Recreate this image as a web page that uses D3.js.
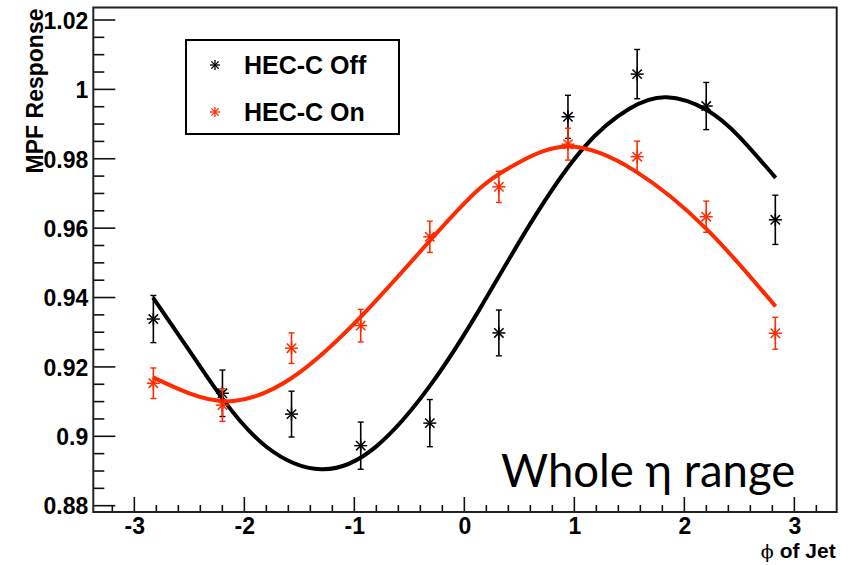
<!DOCTYPE html>
<html><head><meta charset="utf-8">
<script src="https://cdn.jsdelivr.net/npm/d3@7"></script>
<style>
html,body{margin:0;padding:0;background:#fff;}
svg{display:block;}
</style></head>
<body>
<svg id="c" width="848" height="565"></svg>
<script>
// ---- data ----
const phiBins = [-2.827, -2.199, -1.571, -0.942, -0.314, 0.314, 0.942, 1.571, 2.199, 2.827];
const offValues = [0.9338, 0.9124, 0.9064, 0.8973, 0.9038, 0.9298, 0.9921, 1.0044, 0.9952, 0.9624];
const offErrors = [0.0068, 0.0067, 0.0066, 0.0068, 0.0068, 0.0066, 0.0062, 0.0071, 0.0068, 0.0071];
const onValues  = [0.9153, 0.9090, 0.9254, 0.9319, 0.9575, 0.9719, 0.9842, 0.9806, 0.9633, 0.9297];
const onErrors  = [0.0044, 0.0047, 0.0044, 0.0047, 0.0045, 0.0045, 0.0046, 0.0045, 0.0045, 0.0046];
// fit curves
const offFitX = [-2.83, -2.5, -2.19, -1.8, -1.3, -0.8, -0.3, 0.142, 0.6, 1.08, 1.5, 1.84, 2.2, 2.5, 2.83];
const offFitY = [0.9400, 0.9247, 0.9105, 0.8970, 0.8905, 0.8971, 0.9151, 0.9368, 0.9613, 0.9830, 0.9944, 0.9977, 0.9941, 0.9863, 0.9745];
const onFitX  = [-2.83, -2.5, -2.1, -1.57, -0.94, -0.31, 0.142, 0.5, 0.96, 1.55, 2.2, 2.83];
const onFitY  = [0.9170, 0.9124, 0.9102, 0.9168, 0.9345, 0.9565, 0.9715, 0.9790, 0.9835, 0.9765, 0.9598, 0.9374];
const xTickLabels = ["-3", "-2", "-1", "0", "1", "2", "3"];
const yTickLabels = ["0.88", "0.9", "0.92", "0.94", "0.96", "0.98", "1", "1.02"];
const legendLabels = ["HEC-C Off", "HEC-C On"];
const xTitle = "of Jet";
const yTitle = "MPF Response";
const note = "Whole η range";

// ---- layout ----
const L = 93.3, R = 836.7, T = 7.5, B = 512;
const COL_OFF = "#000000", COL_ON = "#ff2a00";
const svg = d3.select("#c");
const x = d3.scaleLinear().domain([-3.373, 3.385]).range([L, R]);
const y = d3.scaleLinear().domain([0.87818, 1.02360]).range([B, T]);
const FONT = "'Liberation Sans', Arial, Helvetica, sans-serif";

// ticks
const yMajor = yTickLabels.map(Number);
const yMinor = d3.range(0.88, 1.0236, 0.005).filter(v => !yMajor.some(m => Math.abs(m - v) < 1e-6));
const xMajor = xTickLabels.map(Number);
const xMinor = d3.range(-3.2, 3.39, 0.2).filter(v => !xMajor.some(m => Math.abs(m - v) < 1e-6));

const gt = svg.append("g").attr("stroke", "#111").attr("stroke-width", 1.6);
gt.selectAll(".ym").data(yMajor).join("line")
  .attr("x1", L).attr("x2", L + 22).attr("y1", d => y(d)).attr("y2", d => y(d));
gt.selectAll(".yn").data(yMinor).join("line")
  .attr("x1", L).attr("x2", L + 11).attr("y1", d => y(d)).attr("y2", d => y(d));
gt.selectAll(".xm").data(xMajor).join("line")
  .attr("y1", B).attr("y2", B - 15).attr("x1", d => x(d)).attr("x2", d => x(d));
gt.selectAll(".xn").data(xMinor).join("line")
  .attr("y1", B).attr("y2", B - 7).attr("x1", d => x(d)).attr("x2", d => x(d));

// tick labels via d3 axes (no tick lines)
const yAxis = d3.axisLeft(y).tickValues(yMajor).tickSize(0).tickPadding(0)
  .tickFormat((d, i) => yTickLabels[i]);
const ya = svg.append("g").attr("transform", `translate(${L - 5},0)`).call(yAxis);
ya.select(".domain").remove();
ya.selectAll("text").attr("font-family", FONT).attr("font-weight", "bold")
  .attr("font-size", 23).attr("fill", "#000").attr("dy", "0.36em");

const xAxis = d3.axisBottom(x).tickValues(xMajor).tickSize(0).tickPadding(0)
  .tickFormat((d, i) => xTickLabels[i]);
const xa = svg.append("g").attr("transform", `translate(0,${B + 5})`).call(xAxis);
xa.select(".domain").remove();
xa.selectAll("text").attr("font-family", FONT).attr("font-weight", "bold")
  .attr("font-size", 23).attr("fill", "#000").attr("dy", "0.72em");

// frame
svg.append("rect").attr("x", L).attr("y", T).attr("width", R - L).attr("height", B - T)
  .attr("fill", "none").attr("stroke", "#222").attr("stroke-width", 2);

// axis titles
svg.append("text").attr("transform", `translate(43,${T + 1}) rotate(-90)`)
  .attr("text-anchor", "end").attr("font-family", FONT).attr("font-weight", "bold")
  .attr("font-size", 23).text(yTitle);
const xt = svg.append("text").attr("x", R - 1).attr("y", 558).attr("text-anchor", "end")
  .attr("font-family", FONT).attr("font-size", 21);
xt.append("tspan").attr("font-family", "'DejaVu Serif', serif").attr("font-size", 19).text("ϕ ");
xt.append("tspan").attr("font-weight", "bold").text(xTitle);

// fit curves
const line = d3.line().x(d => x(d[0])).y(d => y(d[1])).curve(d3.curveNatural);
svg.append("path").datum(d3.zip(offFitX, offFitY)).attr("d", line)
  .attr("fill", "none").attr("stroke", COL_OFF).attr("stroke-width", 4);
svg.append("path").datum(d3.zip(onFitX, onFitY)).attr("d", line)
  .attr("fill", "none").attr("stroke", COL_ON).attr("stroke-width", 4);

// markers
function star(g, cx, cy, r, col, w) {
  const a = r * 0.72;
  const segs = [[-r, 0, r, 0], [0, -r, 0, r], [-a, -a, a, a], [-a, a, a, -a]];
  segs.forEach(s => g.append("line").attr("x1", cx + s[0]).attr("y1", cy + s[1])
    .attr("x2", cx + s[2]).attr("y2", cy + s[3]).attr("stroke", col).attr("stroke-width", w));
}
function series(vals, errs, col) {
  const g = svg.append("g");
  phiBins.forEach((p, i) => {
    const cx = x(p), v = vals[i], e = errs[i];
    g.append("line").attr("x1", cx).attr("x2", cx).attr("y1", y(v - e)).attr("y2", y(v + e))
      .attr("stroke", col).attr("stroke-width", 1.6);
    [v - e, v + e].forEach(t => g.append("line").attr("x1", cx - 3).attr("x2", cx + 3)
      .attr("y1", y(t)).attr("y2", y(t)).attr("stroke", col).attr("stroke-width", 1.4));
    star(g, cx, y(v), 6.5, col, 1.5);
  });
}
series(offValues, offErrors, COL_OFF);
series(onValues, onErrors, COL_ON);

// legend
svg.append("rect").attr("x", 186).attr("y", 40).attr("width", 213).attr("height", 94)
  .attr("fill", "#fff").attr("stroke", "#000").attr("stroke-width", 2);
const lg = svg.append("g");
[[65, COL_OFF], [112, COL_ON]].forEach((d, i) => {
  star(lg, 215, d[0], 5, d[1], 1.3);
  lg.append("text").attr("x", 244).attr("y", d[0]).attr("dy", "0.36em")
    .attr("font-family", FONT).attr("font-weight", "bold").attr("font-size", 25)
    .text(legendLabels[i]);
});

// annotation
svg.append("text").attr("x", 501).attr("y", 487).attr("font-family", "Lato, 'Open Sans', sans-serif")
  .attr("font-size", 45.5).attr("fill", "#000").text(note);
</script>
</body></html>
